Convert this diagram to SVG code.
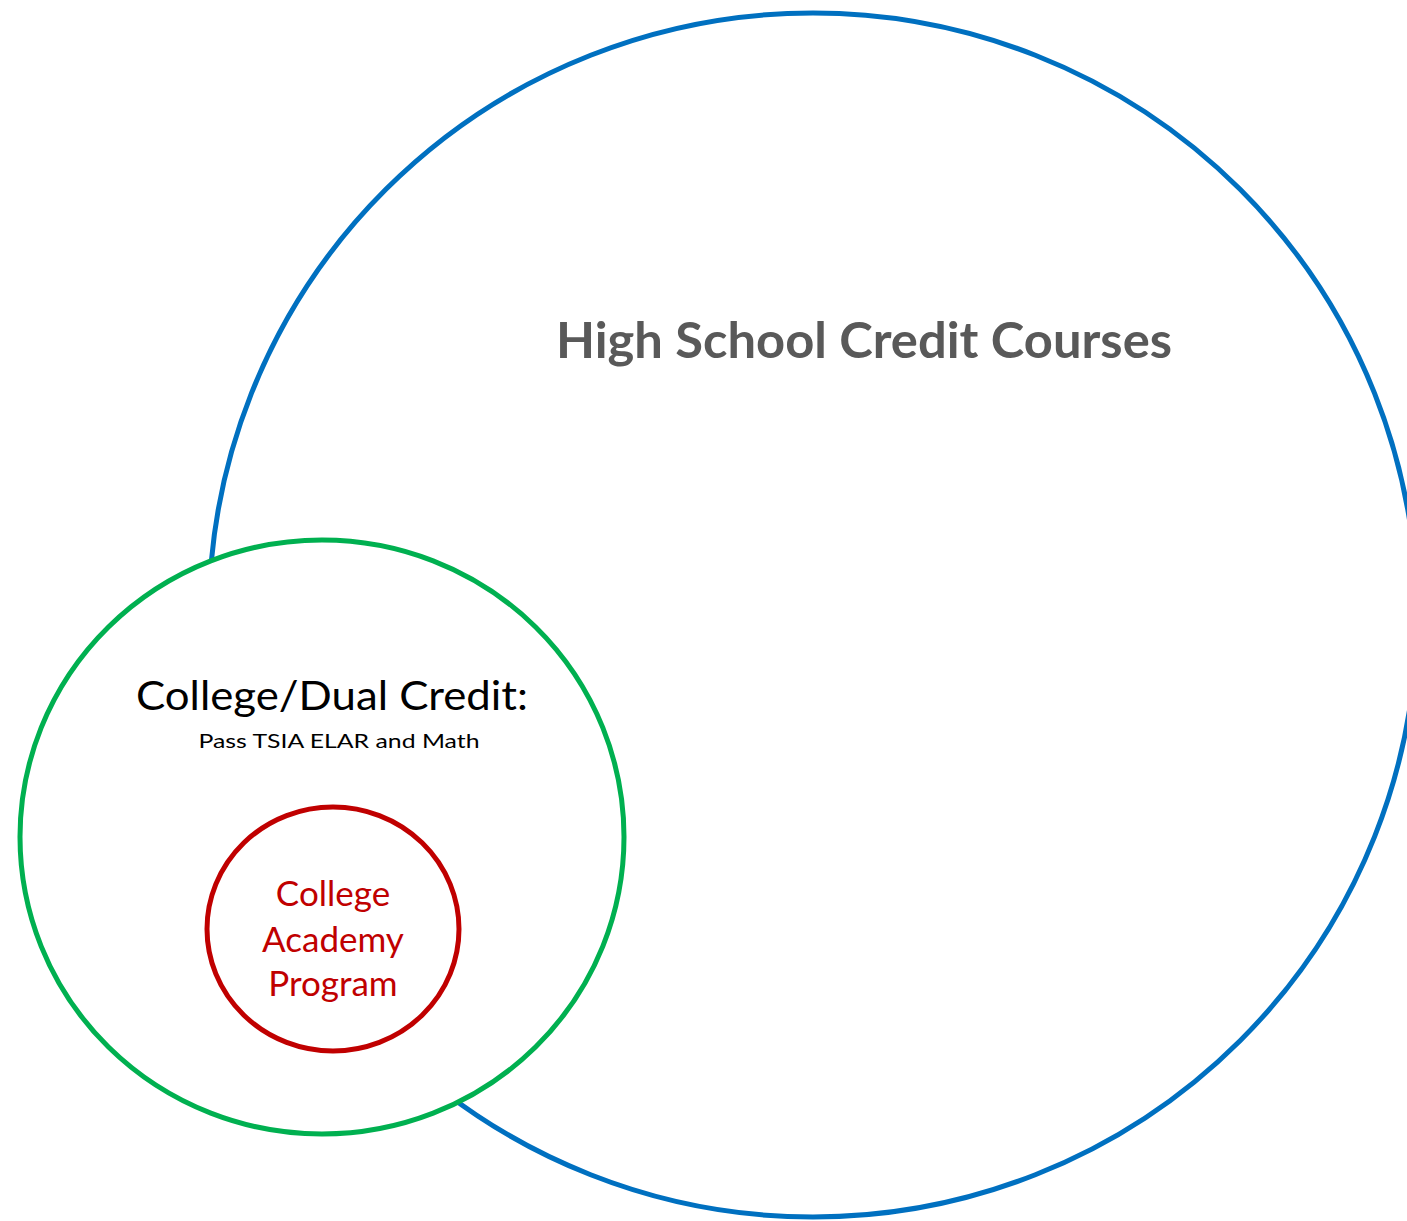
<svg xmlns="http://www.w3.org/2000/svg" width="1407" height="1221" viewBox="0 0 1407 1221">
<style>
text{font-family:Lato,"Open Sans","Liberation Sans",sans-serif;text-anchor:middle}
.t{font-weight:bold;fill:#595959;font-size:50px}
.g{fill:#000;font-size:40px}
.s{fill:#000;font-size:20px}
.r{fill:#C00000;font-size:35px}
</style>
<rect width="1407" height="1221" fill="#fff"/>
<g id="high-school">
<ellipse cx="813" cy="615" rx="604" ry="602" fill="#fff" stroke="#0070C0" stroke-width="5"/>
<text class="t" x="864" y="358" textLength="616" lengthAdjust="spacingAndGlyphs">High School Credit Courses</text>
</g>
<g id="dual-credit">
<ellipse cx="322" cy="837" rx="302" ry="297" fill="#fff" stroke="#00B050" stroke-width="5"/>
<text class="g" x="332" y="710" textLength="392" lengthAdjust="spacingAndGlyphs">College/Dual Credit:</text>
<text class="s" x="339" y="748" textLength="281" lengthAdjust="spacingAndGlyphs">Pass TSIA  ELAR and Math</text>
</g>
<g id="college-academy">
<ellipse cx="333" cy="929" rx="126" ry="122" fill="#fff" stroke="#C00000" stroke-width="5"/>
<text class="r" x="333" y="906">College</text>
<text class="r" x="333" y="952">Academy</text>
<text class="r" x="333" y="996">Program</text>
</g>
<g id="connectors"/>
</svg>
